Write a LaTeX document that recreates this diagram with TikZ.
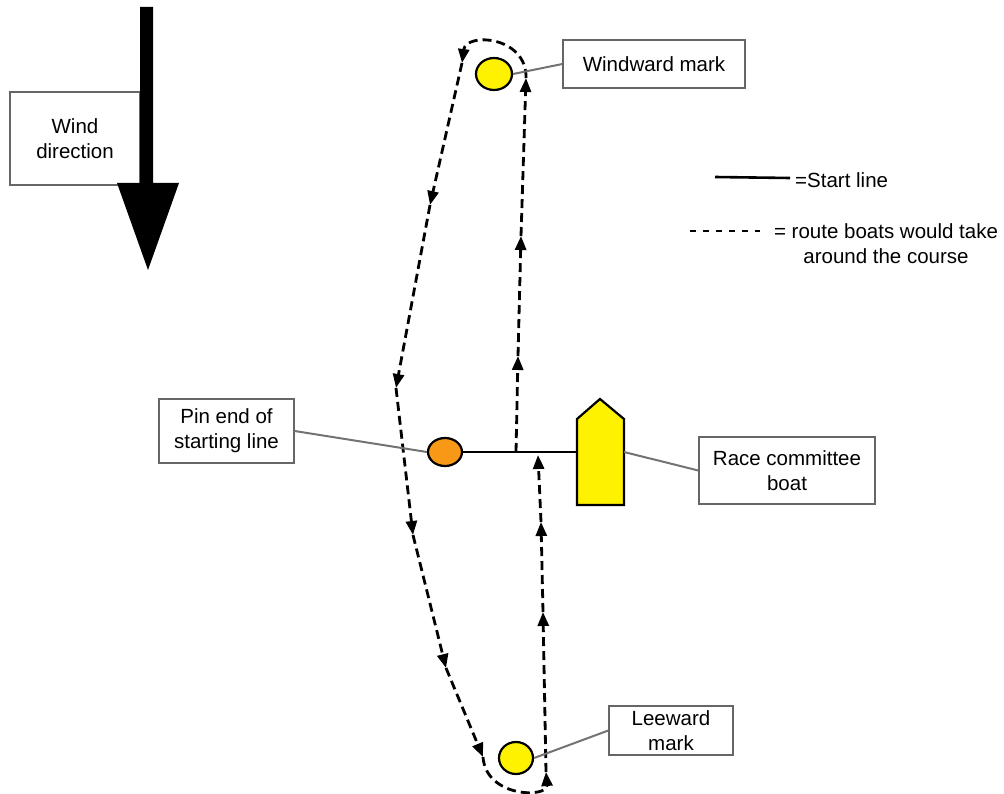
\documentclass[tikz,border=0pt]{standalone}
\usepackage{fontspec}
\setmainfont{Liberation Sans}
\usetikzlibrary{arrows.meta,shapes.geometric}
\begin{document}
\begin{tikzpicture}[x=1pt,y=-1pt,
  lbl/.style={draw=black!60,line width=1.3pt,fill=white,align=center,font=\fontsize{20.5}{25}\selectfont,inner sep=0pt},
  buoy/.style={ellipse,draw=black,line width=2.2pt,inner sep=0pt},
  leader/.style={draw=black!55,line width=2pt},
  route/.style={line width=2.8pt,dash pattern=on 9pt off 5pt,-{Triangle[length=14pt,width=11pt]}},
  txt/.style={font=\fontsize{20.5}{25}\selectfont,align=center,inner sep=0pt}]
\useasboundingbox (0,0) rectangle (1004,794);

% wind
\node[lbl,minimum width=130pt,minimum height=93pt] (wind) at (75,138.5) {Wind\\direction};
\fill (140,7) -- (153,7) -- (153,183) -- (179,183) -- (148,270) -- (117,183) -- (140,183) -- cycle;

% route coordinates
\coordinate (r0) at (516,452);
\coordinate (r1) at (518,356);
\coordinate (r2) at (521,236);
\coordinate (r3) at (526,78);
\coordinate (r4) at (462,63);
\coordinate (r5) at (430,205);
\coordinate (r6) at (396,388);
\coordinate (r7) at (413,535);
\coordinate (r8) at (446,668);
\coordinate (r9) at (483,757);
\coordinate (r10) at (546,772);
\coordinate (r11) at (543,612);
\coordinate (r12) at (541,522);
\coordinate (r13) at (538,455);

\draw[route] (r0) -- (r1);
\draw[route] (r1) -- (r2);
\draw[route] (r2) -- (r3);
\draw[route] (r3) .. controls (527,36) and (466,32) .. (r4);
\draw[route] (r4) -- (r5);
\draw[route] (r5) -- (r6);
\draw[route] (r6) -- (r7);
\draw[route] (r7) -- (r8);
\draw[route] (r8) -- (r9);
\draw[route] (r9) .. controls (486,798) and (548,798) .. (r10);
\draw[route] (r10) -- (r11);
\draw[route] (r11) -- (r12);
\draw[route] (r12) -- (r13);

% marks
\node[buoy,fill=yellow,minimum width=36pt,minimum height=32pt] (ww) at (494,74) {};
\node[buoy,fill=yellow,minimum width=34pt,minimum height=32pt] (lw) at (516,758) {};
\node[buoy,fill={rgb,255:red,247;green,152;blue,22},minimum width=34pt,minimum height=28pt] (pin) at (445,452) {};

% boat
\filldraw[fill=yellow,line width=2.2pt] (577,505) -- (577,419) -- (600,399) -- (624,419) -- (624,505) -- cycle;
\coordinate (boatW) at (577,452);
\coordinate (boatE) at (624,452);

% start line
\draw[line width=2.6pt] (pin.east) -- (boatW);

% labels
\node[lbl,minimum width=182pt,minimum height=48pt] (wwl) at (654,64) {Windward mark};
\node[lbl,minimum width=135pt,minimum height=64pt] (pinl) at (226.5,431) {Pin end of\\starting line};
\node[lbl,minimum width=176pt,minimum height=67pt] (rcl) at (787,470.5) {Race committee\\boat};
\node[lbl,minimum width=124pt,minimum height=49pt] (lwl) at (671,730.5) {Leeward\\mark};

% leaders
\draw[leader] (wwl.west) -- (ww.east);
\draw[leader] (pinl.east) -- (pin.west);
\draw[leader] (boatE) -- (rcl.west);
\draw[leader] (lwl.west) -- (lw.east);

% legend
\coordinate (ls1) at (715,177);
\coordinate (ls2) at (790,178);
\draw[line width=2.6pt] (ls1) -- (ls2);
\node[txt,anchor=west] (lst) at (795,180) {=Start line};
\coordinate (ld1) at (690,231);
\coordinate (ld2) at (760,231);
\draw[line width=2.8pt,dash pattern=on 6pt off 7pt] (ld1) -- (ld2);
\node[txt] (ldt) at (886,243.5) {= route boats would take\\around the course};
\end{tikzpicture}
\end{document}
